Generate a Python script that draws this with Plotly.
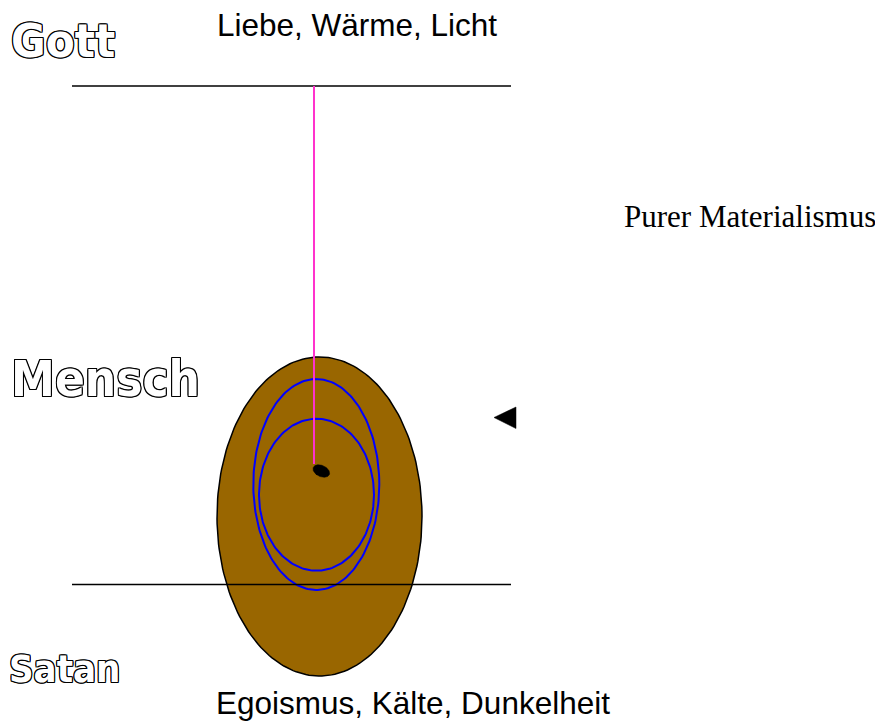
import numpy as np
import plotly.graph_objects as go

# ---- content ----
level_labels = ["Gott", "Mensch", "Satan"]
top_caption = "Liebe, Wärme, Licht"
bottom_caption = "Egoismus, Kälte, Dunkelheit"
side_caption = "Purer Materialismus"

W, H = 883, 722
OFF = 8  # page body margin

fig = go.Figure()

def ellipse_pts(cx, cy, rx, ry, angle_deg=0.0, n=200):
    t = np.linspace(0, 2 * np.pi, n)
    a = np.deg2rad(angle_deg)
    x = rx * np.cos(t)
    y = ry * np.sin(t)
    xr = cx + x * np.cos(a) - y * np.sin(a)
    yr = cy + x * np.sin(a) + y * np.cos(a)
    return xr, yr

# brown body
bx, by = ellipse_pts(319.5, 516.5, 102.5, 159.5)
fig.add_trace(go.Scatter(x=bx, y=by, mode="lines", fill="toself",
                         fillcolor="#996600", line=dict(color="black", width=1.5),
                         hoverinfo="skip", showlegend=False))
# blue rings
ox, oy = ellipse_pts(316.3, 484.5, 63, 105.5)
fig.add_trace(go.Scatter(x=ox, y=oy, mode="lines", line=dict(color="#0000ff", width=2),
                         hoverinfo="skip", showlegend=False))
ix, iy = ellipse_pts(316.5, 494.7, 57.5, 76)
fig.add_trace(go.Scatter(x=ix, y=iy, mode="lines", line=dict(color="#0000ff", width=2),
                         hoverinfo="skip", showlegend=False))
# horizontal lines
fig.add_trace(go.Scatter(x=[72, 511], y=[86, 86], mode="lines",
                         line=dict(color="black", width=1.5), hoverinfo="skip", showlegend=False))
fig.add_trace(go.Scatter(x=[72, 511], y=[584.5, 584.5], mode="lines",
                         line=dict(color="black", width=1.5), hoverinfo="skip", showlegend=False))
# pink line
fig.add_trace(go.Scatter(x=[314, 314], y=[86, 464], mode="lines",
                         line=dict(color="#ff33cc", width=2), hoverinfo="skip", showlegend=False))
# black small ellipse
kx, ky = ellipse_pts(321.3, 471, 8.8, 5.6, 25)
fig.add_trace(go.Scatter(x=kx, y=ky, mode="lines", fill="toself", fillcolor="black",
                         line=dict(color="black", width=0.5), hoverinfo="skip", showlegend=False))
# triangle
fig.add_trace(go.Scatter(x=[494, 516, 516, 494], y=[417.5, 407, 428.5, 417.5], mode="lines",
                         fill="toself", fillcolor="black", line=dict(color="black", width=0.5),
                         hoverinfo="skip", showlegend=False))

outline = ("1px 0 0 #000, -1px 0 0 #000, 0 1px 0 #000, 0 -1px 0 #000, "
           "1px 1px 0 #000, -1px -1px 0 #000, 1px -1px 0 #000, -1px 1px 0 #000")

label_font = "DejaVu Sans Condensed, Liberation Sans Narrow, Arial Narrow, sans-serif"
label_pos = [(63, 40, 47), (105, 379, 49), (64, 669, 38)]
for lab, (x, y, s) in zip(level_labels, label_pos):
    fig.add_annotation(x=x, y=y, text=lab, showarrow=False, xanchor="center", yanchor="middle",
                       font=dict(family=label_font, size=s, color="white",
                                 weight="bold", shadow=outline))

fig.add_annotation(x=356.5, y=25, text=top_caption, showarrow=False,
                   xanchor="center", yanchor="middle",
                   font=dict(family="Liberation Sans, Arial, sans-serif", size=31.5, color="black"))
fig.add_annotation(x=412.5, y=703, text=bottom_caption, showarrow=False,
                   xanchor="center", yanchor="middle",
                   font=dict(family="Liberation Sans, Arial, sans-serif", size=31.5, color="black"))
fig.add_annotation(x=750, y=216.5, text=side_caption, showarrow=False,
                   xanchor="center", yanchor="middle",
                   font=dict(family="Liberation Serif, Times New Roman, serif", size=31, color="black"))

fig.update_layout(
    width=W - OFF, height=H - OFF, margin=dict(l=0, r=0, t=0, b=0),
    paper_bgcolor="white", plot_bgcolor="white",
    xaxis=dict(range=[OFF, W], visible=False, fixedrange=True),
    yaxis=dict(range=[H, OFF], visible=False, fixedrange=True),
    showlegend=False,
)

fig.write_html("out.html")
